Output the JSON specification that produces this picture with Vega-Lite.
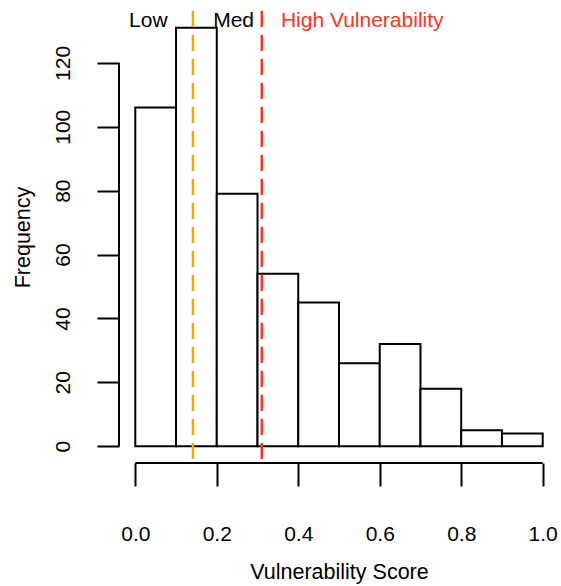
{
  "$schema": "https://vega.github.io/schema/vega-lite/v6.json",
  "width": 440,
  "height": 452,
  "autosize": {"type": "none"},
  "padding": {"left": 119, "top": 11, "right": 2, "bottom": 123},
  "background": "white",
  "config": {
    "view": {"stroke": null},
    "font": "Liberation Sans",
    "axis": {"grid": false, "domain": false, "tickColor": "black", "tickWidth": 2, "labelColor": "black", "titleColor": "black", "labelFont": "Liberation Sans", "titleFont": "Liberation Sans", "labelFontSize": 21, "titleFontSize": 21.5, "titleFontWeight": "normal"}
  },
  "datasets": {
    "bins": [
      {"bin_start": 0.0, "bin_end": 0.1, "count": 106},
      {"bin_start": 0.1, "bin_end": 0.2, "count": 131},
      {"bin_start": 0.2, "bin_end": 0.3, "count": 79},
      {"bin_start": 0.3, "bin_end": 0.4, "count": 54},
      {"bin_start": 0.4, "bin_end": 0.5, "count": 45},
      {"bin_start": 0.5, "bin_end": 0.6, "count": 26},
      {"bin_start": 0.6, "bin_end": 0.7, "count": 32},
      {"bin_start": 0.7, "bin_end": 0.8, "count": 18},
      {"bin_start": 0.8, "bin_end": 0.9, "count": 5},
      {"bin_start": 0.9, "bin_end": 1.0, "count": 4}
    ],
    "thresholds": [
      {"level": "Low/Med", "score": 0.1414},
      {"level": "Med/High", "score": 0.3105}
    ],
    "labels": [
      {"label": "Low", "x": 0.032, "y": 131.3, "group": "other"},
      {"label": "Med", "x": 0.2412, "y": 131.3, "group": "other"},
      {"label": "High Vulnerability", "x": 0.557, "y": 131.3, "group": "high"}
    ],
    "axisframe": [{"x0": -0.04, "ylo": 0, "yhi": 120, "y0": -5.24, "xlo": 0, "xhi": 1}]
  },
  "layer": [
    {
      "data": {"name": "bins"},
      "mark": {"type": "rect", "fill": "white", "stroke": "black", "strokeWidth": 2},
      "encoding": {
        "x": {"field": "bin_start", "type": "quantitative",
          "scale": {"domain": [-0.04, 1.04], "nice": false, "zero": false},
          "axis": {"values": [0, 0.2, 0.4, 0.6, 0.8, 1.0], "format": ".1f", "tickSize": 23, "labelPadding": 54, "labelBaseline": "alphabetic", "labelFlush": false, "labelOverlap": false, "title": "Vulnerability Score", "titleBaseline": "alphabetic", "titleX": 220, "titleY": 115, "titleAnchor": "middle", "titleAlign": "center"}},
        "x2": {"field": "bin_end"},
        "y": {"field": "count", "type": "quantitative",
          "scale": {"domain": [-5.24, 136.24], "nice": false, "zero": false},
          "axis": {"values": [0, 20, 40, 60, 80, 100, 120], "format": "d", "tickSize": 22, "labelPadding": 28, "labelAngle": 270, "labelAlign": "center", "labelBaseline": "alphabetic", "labelFlush": false, "labelOverlap": false, "title": "Frequency", "titleAngle": 270, "titleBaseline": "alphabetic", "titleAlign": "center", "titleX": -90, "titleY": 226}},
        "y2": {"datum": 0}
      }
    },
    {
      "data": {"name": "axisframe"},
      "mark": {"type": "rule", "color": "black", "strokeWidth": 2},
      "encoding": {
        "x": {"field": "x0", "type": "quantitative"},
        "y": {"field": "ylo", "type": "quantitative"},
        "y2": {"field": "yhi"}
      }
    },
    {
      "data": {"name": "axisframe"},
      "mark": {"type": "rule", "color": "black", "strokeWidth": 2},
      "encoding": {
        "y": {"field": "y0", "type": "quantitative"},
        "x": {"field": "xlo", "type": "quantitative"},
        "x2": {"field": "xhi"}
      }
    },
    {
      "data": {"name": "thresholds"},
      "mark": {"type": "rule", "strokeWidth": 2.5, "strokeDash": [16, 8]},
      "encoding": {
        "x": {"field": "score", "type": "quantitative"},
        "color": {"field": "level", "type": "nominal", "scale": {"domain": ["Low/Med", "Med/High"], "range": ["#FFA500", "#FF3322"]}, "legend": null}
      }
    },
    {
      "data": {"name": "labels"},
      "mark": {"type": "text", "fontSize": 21, "font": "Liberation Sans", "align": "center", "baseline": "alphabetic"},
      "encoding": {
        "x": {"field": "x", "type": "quantitative"},
        "y": {"field": "y", "type": "quantitative"},
        "text": {"field": "label"},
        "color": {"field": "group", "type": "nominal", "scale": {"domain": ["other", "high"], "range": ["black", "#FF3322"]}, "legend": null}
      }
    }
  ],
  "resolve": {"scale": {"color": "independent"}}
}
